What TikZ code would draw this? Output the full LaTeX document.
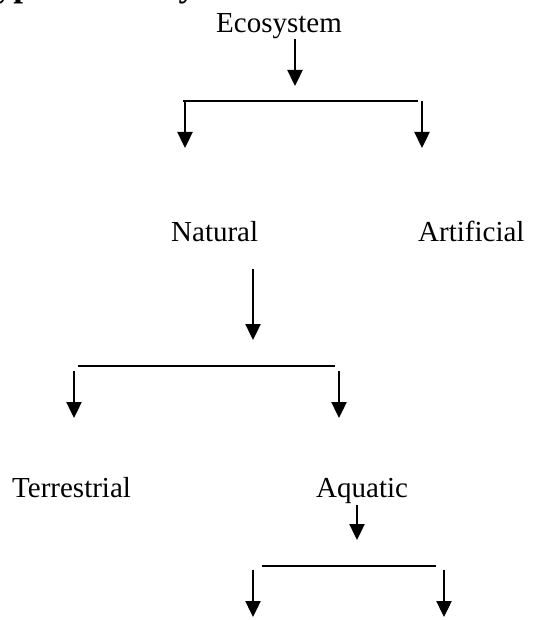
\documentclass[tikz,border=0pt]{standalone}
\usepackage{fontspec}
\setmainfont{Liberation Serif}
\usetikzlibrary{arrows.meta}
\begin{document}
\begin{tikzpicture}[x=1pt,y=-1pt,
  lbl/.style={anchor=base west,inner sep=0pt,font=\fontsize{29}{34}\selectfont},
  ttl/.style={anchor=base west,inner sep=0pt,font=\fontsize{35}{40}\selectfont\bfseries},
  arr/.style={line width=2.4pt,-{Triangle[length=16pt,width=15pt]}},
  bar/.style={line width=1.1pt}]
\useasboundingbox (0,0) rectangle (553,620);
% title (cut off at top)
\node[ttl] (title) at (-25,-3) {Types of Ecosystem};
% labels
\node[lbl] (eco) at (216,33) {Ecosystem};
\node[lbl] (nat) at (171,241) {Natural};
\node[lbl] (art) at (418,241) {Artificial};
\node[lbl] (ter) at (12,497) {Terrestrial};
\node[lbl] (aqu) at (316,497) {Aquatic};
% coordinates
\coordinate (a1s) at (295,39);  \coordinate (a1e) at (295,86);
\coordinate (b1l) at (183,101); \coordinate (b1r) at (418,101);
\coordinate (l1s) at (185,101); \coordinate (l1e) at (185,148);
\coordinate (r1s) at (422,101); \coordinate (r1e) at (422,148);
\coordinate (a2s) at (253,269); \coordinate (a2e) at (253,340);
\coordinate (b2l) at (78,366);  \coordinate (b2r) at (335,366);
\coordinate (l2s) at (74,371);  \coordinate (l2e) at (74,418);
\coordinate (r2s) at (339,371); \coordinate (r2e) at (339,418);
\coordinate (a3s) at (357,505); \coordinate (a3e) at (357,540);
\coordinate (b3l) at (262,566); \coordinate (b3r) at (436,566);
\coordinate (l3s) at (253,570); \coordinate (l3e) at (253,617);
\coordinate (r3s) at (444,570); \coordinate (r3e) at (444,617);
% connectors
\draw[arr] (a1s) -- (a1e);
\draw[bar] (b1l) -- (b1r);
\draw[arr] (l1s) -- (l1e);
\draw[arr] (r1s) -- (r1e);
\draw[arr] (a2s) -- (a2e);
\draw[bar] (b2l) -- (b2r);
\draw[arr] (l2s) -- (l2e);
\draw[arr] (r2s) -- (r2e);
\draw[arr] (a3s) -- (a3e);
\draw[bar] (b3l) -- (b3r);
\draw[arr] (l3s) -- (l3e);
\draw[arr] (r3s) -- (r3e);
\end{tikzpicture}
\end{document}
